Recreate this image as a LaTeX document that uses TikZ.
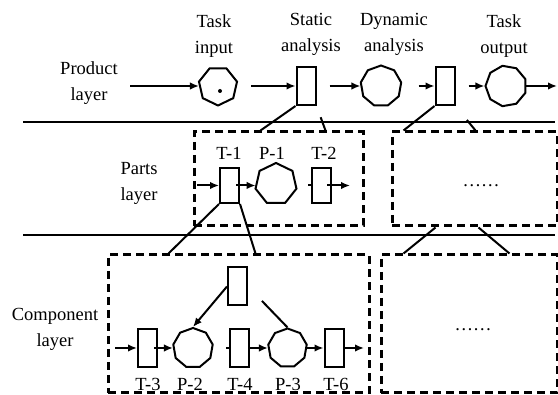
\documentclass[tikz,border=0pt]{standalone}
\usepackage{fontspec}
\setmainfont{Liberation Serif}
\usepackage{tikz}
\usetikzlibrary{arrows.meta, shapes.geometric}

\tikzset{
  lay/.style={font=\fontsize{9.25pt}{13pt}\selectfont, align=center, inner sep=0pt},
  trans/.style={draw, line width=1pt, minimum width=9.5pt, minimum height=19pt, inner sep=0pt},
  place/.style={draw, line width=1pt, regular polygon, regular polygon sides=9,
    minimum size=20pt, inner sep=0pt},
  dbox/.style={draw, line width=1.5pt, dash pattern=on 4pt off 2.5pt, inner sep=0pt},
  arc/.style={line width=1pt, -{Latex[length=4.5pt,width=3.8pt]}},
  link/.style={line width=1pt},
}

\begin{document}
\begin{tikzpicture}[x=0.5pt, y=-0.5pt]
  \useasboundingbox (0,0) rectangle (558,395);
  % layer separators
  \draw[link] (23,122) -- (555,122);
  \draw[link] (23,235) -- (555,235);

  % product layer
  \node[lay] (prodl) at (89,83) {Product\\layer};
  \node[lay] (tinl) at (214,36) {Task\\input};
  \node[lay] (stal) at (311,34) {Static\\analysis};
  \node[lay] (dynl) at (394,34) {Dynamic\\analysis};
  \node[lay] (toutl) at (504,36) {Task\\output};
  \node[place, regular polygon sides=7, shape border rotate=180, minimum size=19.5pt] (tin) at (218,86) {};
  \fill (220,91) circle (2);
  \node[trans] (sta) at (306,86) {};
  \node[place, minimum size=20.5pt] (dyn) at (381,86) {};
  \node[trans] (tr) at (445,86) {};
  \node[place, minimum size=20.5pt, shape border rotate=90] (tout) at (506,86) {};
  \coordinate (pin) at (130,86);
  \coordinate (pout) at (557,86);
  \draw[arc] (pin) -- (tin);
  \draw[arc, shorten <=7pt] (tin) -- (sta);
  \draw[arc, shorten <=6.5pt] (sta) -- (dyn);
  \draw[arc, shorten <=8.5pt] (dyn) -- (tr);
  \draw[arc, shorten <=6.5pt] (tr) -- (tout);
  \draw[arc] (tout) -- (pout);

  % parts layer
  \node[lay] (partl) at (139,183) {Parts\\layer};
  \node[dbox, minimum width=84.5pt, minimum height=47pt] (pb) at (278.5,179) {};
  \node[dbox, minimum width=82.5pt, minimum height=47pt] (pr) at (474.5,179) {};
  \node[lay] (prdots) at (481,186) {……};
  \node[trans, minimum height=17.5pt] (t1) at (229.5,185.5) {};
  \node[place, regular polygon sides=7, minimum size=21pt] (p1) at (276,184) {};
  \node[trans, minimum height=17.5pt] (t2) at (321.5,185.5) {};
  \node[lay] (t1l) at (229,153) {T-1};
  \node[lay] (p1l) at (272,153) {P-1};
  \node[lay] (t2l) at (324,153) {T-2};
  \coordinate (ain) at (197,185.5);
  \coordinate (aout) at (350,185.5);
  \draw[arc] (ain) -- (t1);
  \draw[arc] ([xshift=-2pt]t1.east) -- (p1.west |- t1.east);
  \draw[link] (t2.west) -- ++(-1.5pt,0);
  \draw[arc] ([xshift=-2.5pt]t2.east) -- (aout);

  % links product -> parts
  \draw[link] (sta.south west) -- ([xshift=34pt]pb.north west);
  \draw[link, shorten <=6pt] (sta.south east) -- ([xshift=66.5pt]pb.north west);
  \draw[link] (tr.south west) -- ([xshift=6.5pt]pr.north west);
  \draw[link, shorten <=9pt] (tr.south east) -- ([xshift=42.5pt]pr.north west);

  % component layer
  \node[lay] (compl) at (55,329) {Component\\layer};
  \node[dbox, minimum width=130.5pt, minimum height=69pt] (cb) at (238.5,324) {};
  \node[dbox, minimum width=88pt, minimum height=69pt] (cr) at (469,324) {};
  \node[lay] (crdots) at (473,330) {……};
  \node[trans] (tt) at (237.5,286.5) {};
  \node[trans] (t3) at (147.5,348) {};
  \node[place] (p2) at (193,348) {};
  \node[trans] (t4) at (239,348) {};
  \node[place, minimum size=19.5pt] (p3) at (287.5,348) {};
  \node[trans] (t6) at (334,348) {};
  \node[lay] (t3l) at (148,384) {T-3};
  \node[lay] (p2l) at (190,384) {P-2};
  \node[lay] (t4l) at (240,384) {T-4};
  \node[lay] (p3l) at (288,384) {P-3};
  \node[lay] (t6l) at (336,384) {T-6};
  \coordinate (cin) at (115,348);
  \coordinate (cout) at (364,348);
  \draw[arc] (cin) -- (t3);
  \draw[arc] ([xshift=-2pt]t3.east) -- (p2);
  \draw[link] (t4.west) -- ++(-1.5pt,0);
  \draw[arc] (t4) -- (p3);
  \draw[arc] (p3) -- (t6);
  \draw[arc] (t6) -- (cout);
  \draw[arc] (tt.west) -- (p2.north);
  \draw[link, shorten <=10pt] (tt.east) -- (p3.north);

  % links parts -> component
  \draw[link] (t1.south west) -- ([xshift=31pt]cb.north west);
  \draw[link] (t1.south east) -- ([xshift=74.5pt]cb.north west);
  \draw[link] ([xshift=22.5pt]pr.south west) -- ([xshift=12pt]cr.north west);
  \draw[link] ([xshift=44pt]pr.south west) -- ([xshift=65pt]cr.north west);
\end{tikzpicture}
\end{document}
